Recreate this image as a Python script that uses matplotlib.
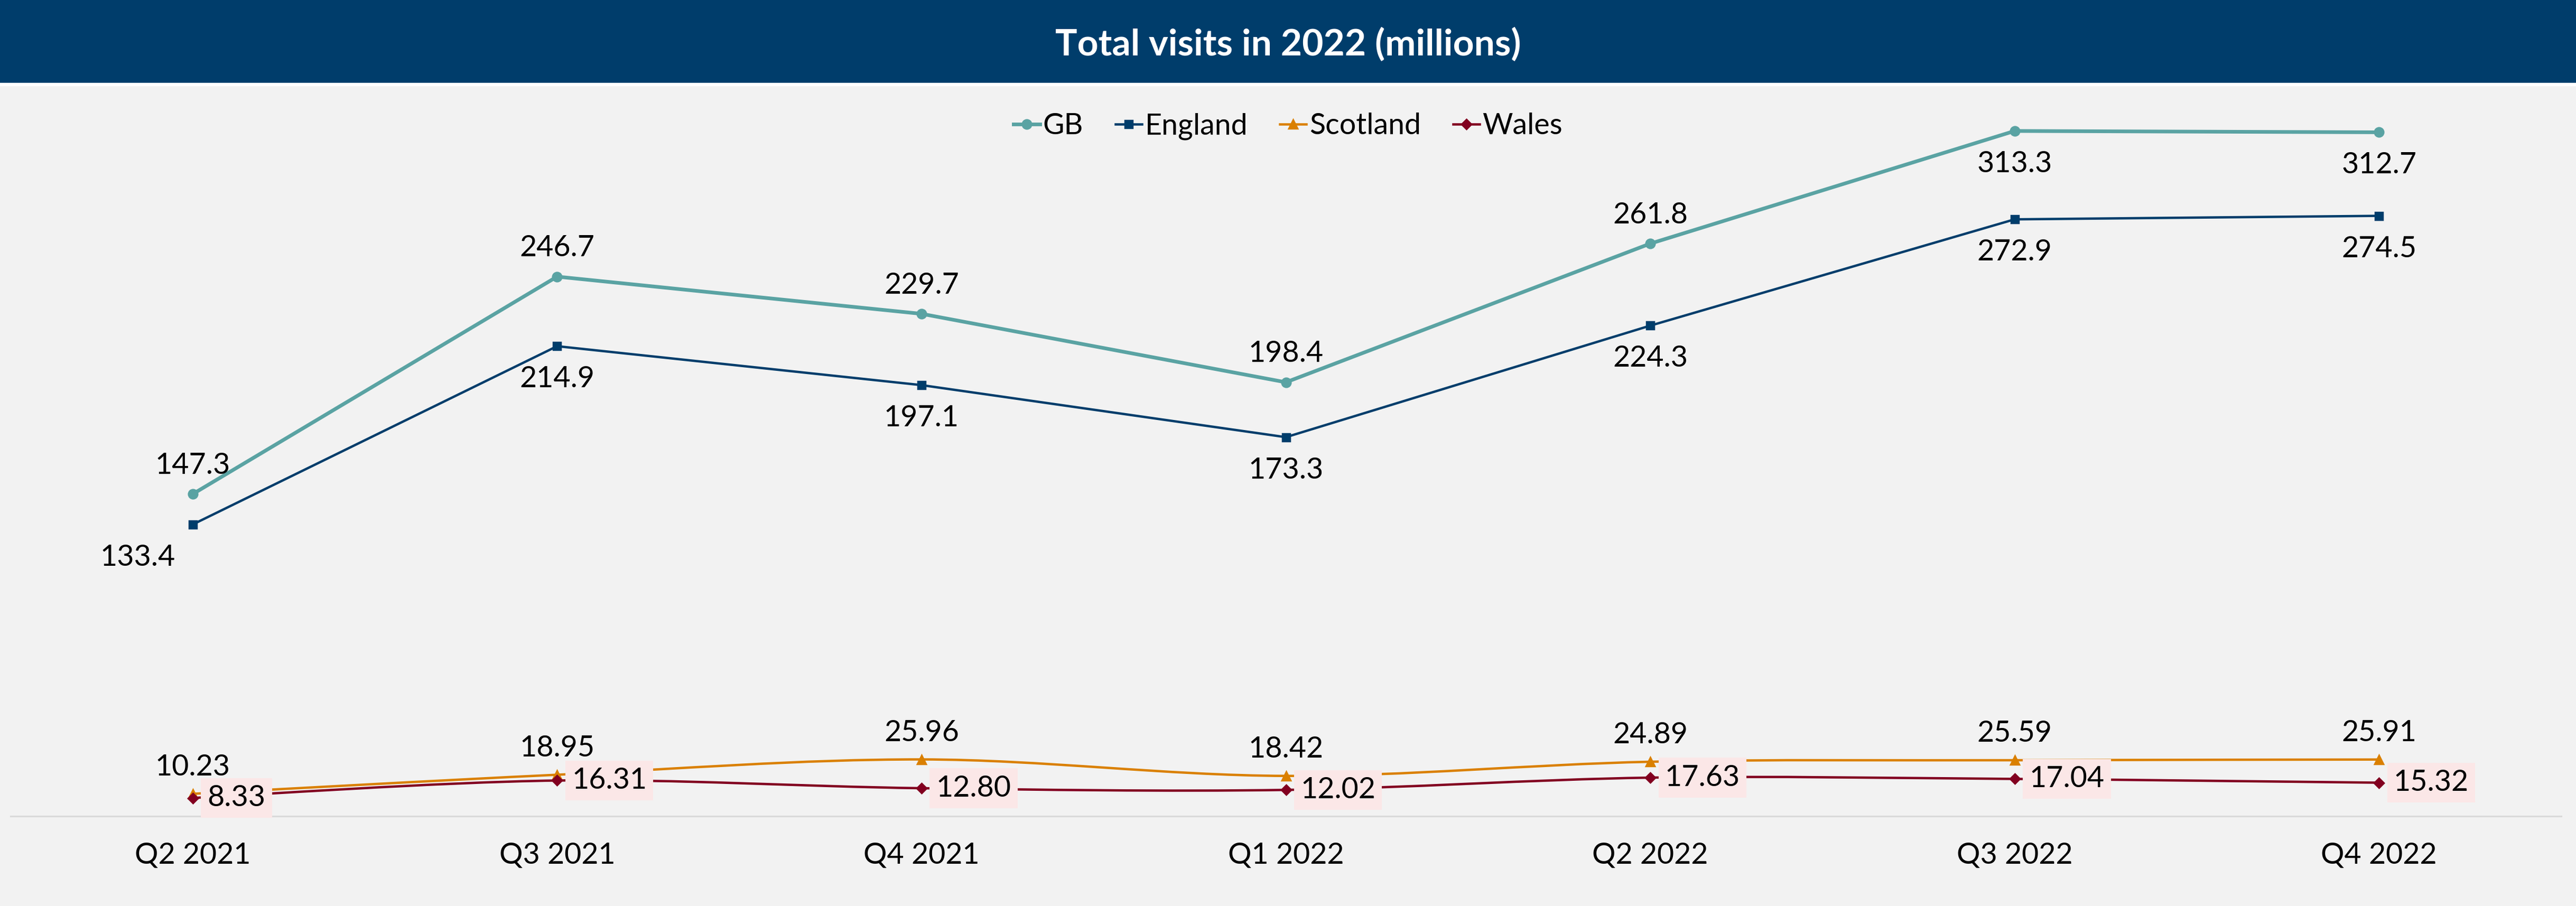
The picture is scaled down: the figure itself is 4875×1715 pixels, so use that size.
import matplotlib.pyplot as plt
import numpy as np
from matplotlib.path import Path
from matplotlib.patches import PathPatch, Rectangle
from matplotlib.lines import Line2D

plt.rcParams['font.family'] = ['Lato', 'DejaVu Sans']

quarters = ['Q2 2021', 'Q3 2021', 'Q4 2021', 'Q1 2022', 'Q2 2022', 'Q3 2022', 'Q4 2022']
gb = [147.3, 246.7, 229.7, 198.4, 261.8, 313.3, 312.7]
england = [133.4, 214.9, 197.1, 173.3, 224.3, 272.9, 274.5]
scotland = [10.23, 18.95, 25.96, 18.42, 24.89, 25.59, 25.91]
wales = [8.33, 16.31, 12.80, 12.02, 17.63, 17.04, 15.32]

c_gb = '#5AA3A3'
c_eng = '#003D6B'
c_sco = '#DA8000'
c_wal = '#820020'
bg = '#F2F2F2'


def smooth_path(x, y):
    # cubic bezier through every point, like a spreadsheet "smoothed line"
    pts = np.column_stack([x, y]).astype(float)
    n = len(pts)
    verts = [pts[0]]
    codes = [Path.MOVETO]
    for i in range(n - 1):
        p0 = pts[max(i - 1, 0)]
        p1 = pts[i]
        p2 = pts[i + 1]
        p3 = pts[min(i + 2, n - 1)]
        verts += [p1 + (p2 - p0) / 6, p2 - (p3 - p1) / 6, p2]
        codes += [Path.CURVE4] * 3
    return Path(verts, codes)


fig = plt.figure(figsize=(19.5, 6.86), dpi=250, facecolor=bg)

# title bar
fig.patches.append(Rectangle((0, 1 - 158 / 1715), 1, 158 / 1715, transform=fig.transFigure,
                             color='#003D6B', zorder=0))
fig.patches.append(Rectangle((0, 1 - 161 / 1715), 1, 3 / 1715, transform=fig.transFigure,
                             color='white', zorder=0))
fig.text(0.5, 1 - 84 / 1715, 'Total visits in 2022 (millions)', color='white',
         fontsize=20, fontweight='bold', ha='center', va='center')

ax = fig.add_axes([20 / 4875, 170 / 1715, 4827 / 4875, 1375 / 1715])
ax.set_facecolor('none')
x = np.arange(len(quarters))
ax.set_xlim(-0.5, 6.5)
ax.set_ylim(0, 1375 / 4.14)

ax.plot(x, gb, color=c_gb, lw=2.0, marker='o', ms=4.8, zorder=3)
ax.plot(x, england, color=c_eng, lw=1.3, marker='s', ms=4.0, zorder=3)
ax.add_patch(PathPatch(smooth_path(x, scotland), facecolor='none', edgecolor=c_sco, lw=1.3, zorder=3))
ax.plot(x, scotland, ls='none', color=c_sco, marker='^', ms=4.5, zorder=3)
ax.add_patch(PathPatch(smooth_path(x, wales), facecolor='none', edgecolor=c_wal, lw=1.3, zorder=4))
ax.plot(x, wales, ls='none', color=c_wal, marker='D', ms=3.6, zorder=4)

lab = dict(fontsize=16, ha='center', va='center', textcoords='offset points', zorder=6)
for i, v in enumerate(gb):
    dy = -18 if i >= 5 else 15.5
    ax.annotate(f'{v:.1f}', (x[i], v), xytext=(0, dy), **lab)
for i, v in enumerate(england):
    dx = -30 if i == 0 else 0
    ax.annotate(f'{v:.1f}', (x[i], v), xytext=(dx, -18), **lab)
for i, v in enumerate(scotland):
    ax.annotate(f'{v:.2f}', (x[i], v), xytext=(0, 14.5), **lab)
for i, v in enumerate(wales):
    ax.annotate(f'{v:.2f}', (x[i], v), xytext=(8, 0), fontsize=16, ha='left', va='center',
                textcoords='offset points', zorder=7,
                bbox=dict(boxstyle='square,pad=0.22', fc='#FBE7E7', ec='none'))

ax.set_xticks(x)
ax.set_xticklabels(quarters, fontsize=16)
ax.tick_params(axis='x', length=0, pad=14)
ax.set_yticks([])
for s in ['top', 'left', 'right']:
    ax.spines[s].set_visible(False)
ax.spines['bottom'].set_color('#D9D9D9')
ax.spines['bottom'].set_linewidth(0.9)

handles = [
    Line2D([], [], color=c_gb, lw=2.0, marker='o', ms=4.8),
    Line2D([], [], color=c_eng, lw=1.3, marker='s', ms=4.0),
    Line2D([], [], color=c_sco, lw=1.3, marker='^', ms=4.5),
    Line2D([], [], color=c_wal, lw=1.3, marker='D', ms=3.6),
]
fig.legend(handles, ['GB', 'England', 'Scotland', 'Wales'], loc='center',
           bbox_to_anchor=(0.5, 1 - 239 / 1715), ncol=4, frameon=False, fontsize=16,
           handlelength=0.9, handletextpad=0.1, columnspacing=1.1)

fig.savefig('out.png', dpi=250, facecolor=bg)
